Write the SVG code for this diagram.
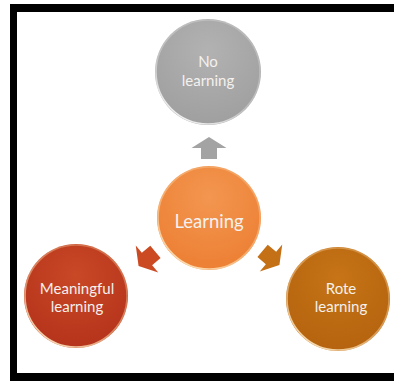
<svg xmlns="http://www.w3.org/2000/svg" width="394" height="381" viewBox="0 0 394 381">
  <style>
    .lbl { font-family: Lato, "Open Sans", "Liberation Sans", sans-serif; fill: #f4f1ee; text-anchor: middle; }
    .sm { font-size: 15px; }
    .big { font-size: 18.5px; }
    .rim { fill: none; stroke-width: 1.6; }
  </style>
  <defs>
    <radialGradient id="gGray" cx="0.5" cy="0.3" r="0.75">
      <stop offset="0" stop-color="#b2b2b2"/>
      <stop offset="1" stop-color="#9e9e9e"/>
    </radialGradient>
    <radialGradient id="gOrange" cx="0.5" cy="0.3" r="0.75">
      <stop offset="0" stop-color="#f39650"/>
      <stop offset="1" stop-color="#ec7e32"/>
    </radialGradient>
    <radialGradient id="gRed" cx="0.5" cy="0.3" r="0.75">
      <stop offset="0" stop-color="#c94826"/>
      <stop offset="1" stop-color="#b4321a"/>
    </radialGradient>
    <radialGradient id="gBrown" cx="0.5" cy="0.3" r="0.75">
      <stop offset="0" stop-color="#c67416"/>
      <stop offset="1" stop-color="#b4620e"/>
    </radialGradient>
    <linearGradient id="rimLight" x1="0.8" y1="0" x2="0.2" y2="1">
      <stop offset="0" stop-color="#ffffff" stop-opacity="0.2"/>
      <stop offset="0.6" stop-color="#ffffff" stop-opacity="0.3"/>
      <stop offset="1" stop-color="#ffffff" stop-opacity="0.95"/>
    </linearGradient>
    <linearGradient id="rimWarm" x1="0.8" y1="0" x2="0.2" y2="1">
      <stop offset="0" stop-color="#fbd9a8" stop-opacity="0.3"/>
      <stop offset="0.6" stop-color="#fbd9a8" stop-opacity="0.5"/>
      <stop offset="1" stop-color="#fde6c0" stop-opacity="1"/>
    </linearGradient>
    <path id="arr" d="M-11,-8 L0,-8 L0,-17.5 L11,0 L0,17.5 L0,8 L-11,8 Z"/>
  </defs>

  <g id="frame">
    <rect x="10" y="4" width="394" height="377" fill="#000000"/>
    <rect x="17" y="12" width="387" height="361" fill="#ffffff"/>
  </g>

  <g id="connectors">
    <use href="#arr" transform="translate(209,148) rotate(-90)" fill="#a3a3a3"/>
    <use href="#arr" transform="translate(147,259) rotate(140)" fill="#cc4a22"/>
    <use href="#arr" transform="translate(271,258) rotate(40)" fill="#c47016"/>
  </g>

  <g id="node-no-learning">
    <circle cx="208" cy="72" r="53" fill="url(#gGray)"/>
    <circle cx="208" cy="72" r="52" class="rim" stroke="url(#rimLight)"/>
    <text class="lbl sm" x="208" y="67">No</text>
    <text class="lbl sm" x="208" y="86">learning</text>
  </g>

  <g id="node-learning">
    <circle cx="209" cy="218" r="52" fill="url(#gOrange)"/>
    <circle cx="209" cy="218" r="51" class="rim" stroke="url(#rimWarm)"/>
    <text class="lbl big" x="209" y="228">Learning</text>
  </g>

  <g id="node-meaningful">
    <circle cx="76" cy="296" r="52" fill="url(#gRed)"/>
    <circle cx="76" cy="296" r="51" class="rim" stroke="url(#rimWarm)"/>
    <text class="lbl sm" x="77" y="294">Meaningful</text>
    <text class="lbl sm" x="77" y="312">learning</text>
  </g>

  <g id="node-rote">
    <circle cx="338" cy="299" r="52" fill="url(#gBrown)"/>
    <circle cx="338" cy="299" r="51" class="rim" stroke="url(#rimWarm)"/>
    <text class="lbl sm" x="341" y="294">Rote</text>
    <text class="lbl sm" x="341" y="312">learning</text>
  </g>
</svg>
